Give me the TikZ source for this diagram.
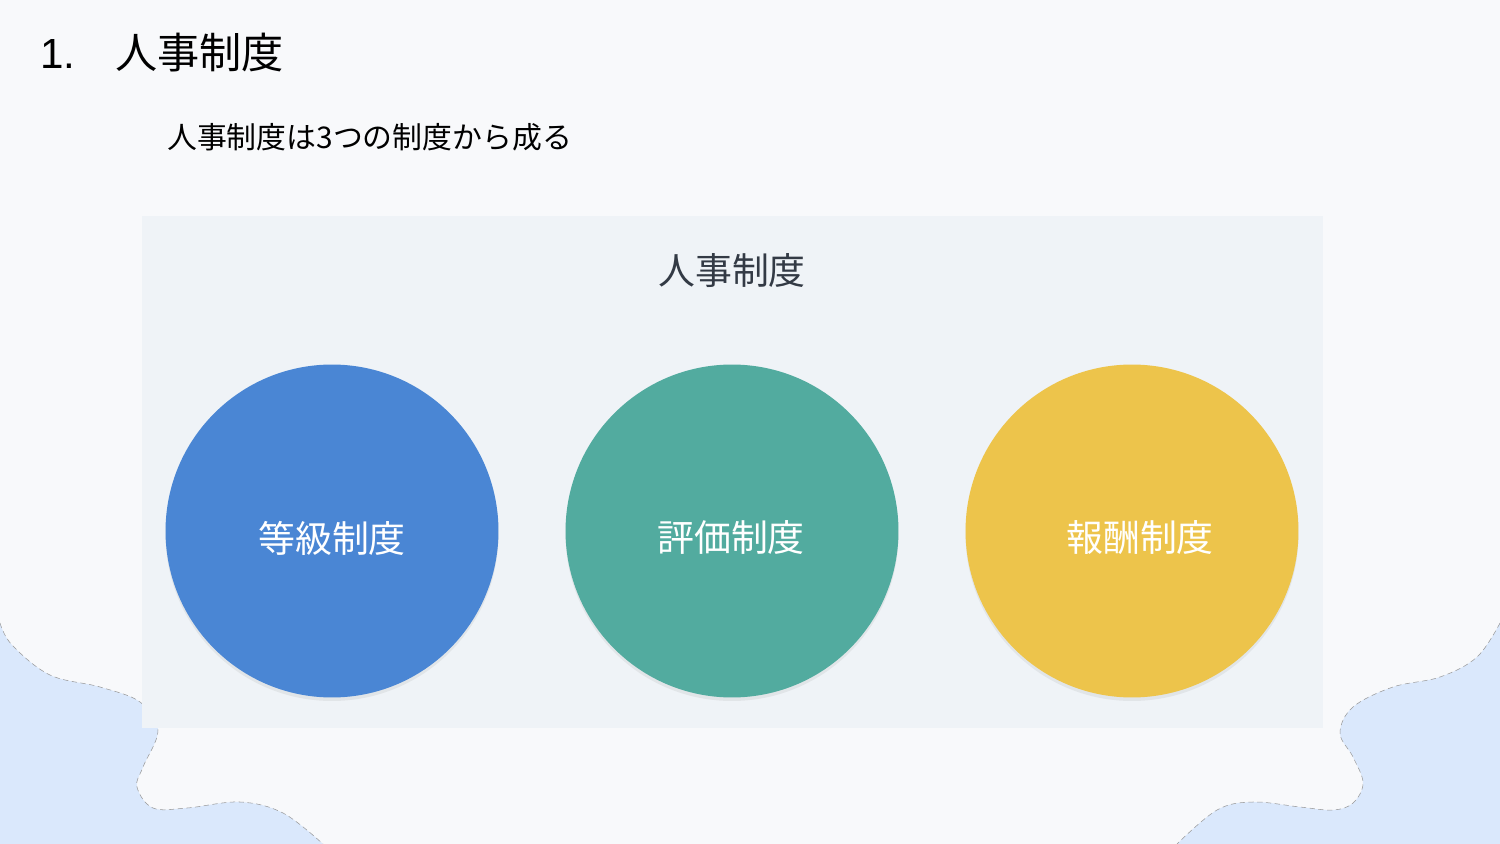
\documentclass[tikz,border=0pt]{standalone}
\usepackage{fontspec}
\setmainfont{Liberation Sans}
\newfontfamily\jp{Noto Sans CJK JP}
\usetikzlibrary{shadows}

\definecolor{pagebg}{HTML}{F8F9FB}
\definecolor{panelbg}{HTML}{EFF3F7}
\definecolor{wavebg}{HTML}{DAE8FC}
\definecolor{gradeblue}{HTML}{4A86D4}
\definecolor{evalgreen}{HTML}{52AB9F}
\definecolor{payyellow}{HTML}{EDC44B}
\definecolor{titlegray}{HTML}{333A45}

\tikzset{
  wave/.style={fill=wavebg, draw=none},
  waveline/.style={draw=gray!80, densely dashed, line width=0.3pt},
  sysball/.style={circle, minimum size=6.66cm, inner sep=0pt, text=white,
    font=\jp\fontsize{21}{25}\selectfont,
    drop shadow={opacity=0.12, shadow xshift=0pt, shadow yshift=-2pt}},
  syslabel/.style={text=white, font=\jp\fontsize{21}{25}\selectfont},
}

\begin{document}
\begin{tikzpicture}[x=0.02cm, y=-0.02cm]
    \useasboundingbox (0,0) rectangle (1500,844);
    \fill[pagebg] (0,0) rectangle (1500,844);
    % waves in the lower corners
    \fill[wave] plot[smooth, tension=0.6] coordinates {(0,623) (12,645) (50,675) (100,687) (140,702) (158,730) (143,767) (137,787) (153,808) (187,808) (240,802) (283,813) (323,844)}
      -- (0,844) -- cycle;
    \draw[waveline] plot[smooth, tension=0.6] coordinates {(0,623) (12,645) (50,675) (100,687) (140,702) (158,730) (143,767) (137,787) (153,808) (187,808) (240,802) (283,813) (323,844)};
    \fill[wave] plot[smooth, tension=0.6] coordinates {(1500,623) (1477,657) (1440,677) (1393,687) (1353,707) (1340,733) (1353,757) (1363,783) (1353,803) (1333,810) (1300,807) (1253,802) (1217,810) (1177,844)}
      -- (1500,844) -- cycle;
    \draw[waveline] plot[smooth, tension=0.6] coordinates {(1500,623) (1477,657) (1440,677) (1393,687) (1353,707) (1340,733) (1353,757) (1363,783) (1353,803) (1333,810) (1300,807) (1253,802) (1217,810) (1177,844)};
    % panel
    \fill[panelbg] (142,216) rectangle (1323,728);
    \node[anchor=west, font=\fontsize{24}{29}\selectfont] (title) at (34,53) {1.\hspace{0.95em}{\jp 人事制度}};
    \node[anchor=west, font=\jp\fontsize{17}{21}\selectfont] (lead) at (161,137) {人事制度は3つの制度から成る};
    \node[text=titlegray, font=\jp\fontsize{21}{25}\selectfont] (hr) at (732,271) {人事制度};
    \node[sysball, fill=gradeblue] (grade) at (332,531) {};
    \node[sysball, fill=evalgreen] (eval) at (732,531) {};
    \node[sysball, fill=payyellow] (pay) at (1132,531) {};
    \node[syslabel] (gradetxt) at (332,538) {等級制度};
    \node[syslabel] (evaltxt) at (731,538) {評価制度};
    \node[syslabel] (paytxt) at (1140,538) {報酬制度};
  \end{tikzpicture}
\end{document}
